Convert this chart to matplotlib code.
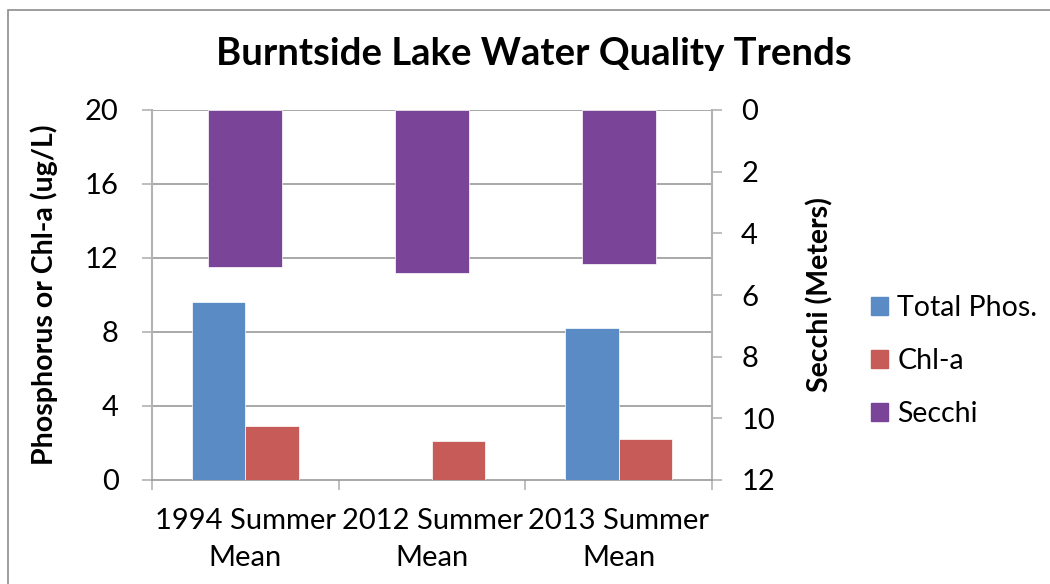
import numpy as np
import matplotlib.pyplot as plt
from matplotlib.patches import Rectangle, Patch

plt.rcParams["font.family"] = ["Lato", "DejaVu Sans"]

# Data
categories = ["1994 Summer\nMean", "2012 Summer\nMean", "2013 Summer\nMean"]
total_phos = [9.6, np.nan, 8.2]
chl_a = [2.9, 2.1, 2.2]
secchi = [5.1, 5.3, 5.0]
left_ticks = [0, 4, 8, 12, 16, 20]
right_ticks = [0, 2, 4, 6, 8, 10, 12]

C_BLUE = "#5b8bc5"
C_RED = "#c65b57"
C_PURPLE = "#7a4599"
C_AXIS = "#b3b3b3"
C_GRID = "#999999"
FS = 21

W, H = 1050, 584
fig = plt.figure(figsize=(W / 100, H / 100), dpi=100)
fig.patch.set_facecolor("white")

# chart area border (top and left visible)
fig.patches.append(Rectangle((8 / W, -0.1), 1.2, 1.1 - 10 / H,
                             transform=fig.transFigure, fill=False,
                             edgecolor="#8c8c8c", linewidth=1.2))

ax = fig.add_axes([152 / W, 1 - 480 / H, (712 - 152) / W, (480 - 110) / H])
ax2 = ax.twinx()
ax.set_zorder(ax2.get_zorder() + 1)
ax.patch.set_visible(False)

x = np.arange(len(categories))
bw = 0.285
ax.bar(x - bw / 2, total_phos, bw, color=C_BLUE, edgecolor="white", linewidth=0.5, zorder=3)
ax.bar(x + bw / 2, chl_a, bw, color=C_RED, edgecolor="white", linewidth=0.5, zorder=3)
ax2.bar(x, secchi, 0.395, color=C_PURPLE, edgecolor="white", linewidth=0.5, zorder=3)

ax.set_xlim(-0.5, 2.5)
ax.set_ylim(0, 20)
ax2.set_ylim(12, 0)

ax.set_yticks(left_ticks)
ax2.set_yticks(right_ticks)
ax.set_xticks(x)
ax.set_xticklabels(categories, fontsize=FS, linespacing=1.55)
ax.set_xticks([-0.5, 0.5, 1.5, 2.5], minor=True)
ax.tick_params(axis="x", which="major", length=0, pad=20)
ax.tick_params(axis="x", which="minor", length=7, color=C_AXIS, width=1.2)
ax.tick_params(axis="y", labelsize=FS, length=7, color=C_AXIS, width=1.2, pad=17)
ax2.tick_params(axis="y", labelsize=FS, length=7, color=C_AXIS, width=1.2, pad=14)

# gridlines drawn behind all bars
for v in left_ticks[1:]:
    ax2.axhline(12 - v * 12 / 20, color=C_GRID, linewidth=1.2, zorder=0)

for a in (ax, ax2):
    for s in a.spines.values():
        s.set_visible(False)
ax.spines["left"].set_visible(True)
ax.spines["left"].set_color(C_AXIS)
ax.spines["left"].set_linewidth(1.5)
ax.spines["bottom"].set_visible(True)
ax.spines["bottom"].set_color(C_GRID)
ax.spines["bottom"].set_linewidth(1.2)
ax2.spines["right"].set_visible(True)
ax2.spines["right"].set_color(C_AXIS)
ax2.spines["right"].set_linewidth(1.5)

ax.set_ylabel("Phosphorus or Chl-a (ug/L)", fontsize=20.5, fontweight="bold")
ax.yaxis.set_label_coords((58 - 152) / 560, 0.5)
ax2.set_ylabel("Secchi (Meters)", fontsize=20.5, fontweight="bold")
ax2.yaxis.set_label_coords((806 - 152) / 560, 0.5)

fig.text(534 / W, 1 - 54 / H, "Burntside Lake Water Quality Trends",
         fontsize=27.5, fontweight="bold", ha="center", va="center")

handles = [Patch(color=C_BLUE), Patch(color=C_RED), Patch(color=C_PURPLE)]
fig.legend(handles, ["Total Phos.", "Chl-a", "Secchi"], loc="center left",
           bbox_to_anchor=(871 / W, 1 - 361 / H), frameon=False, fontsize=20.5,
           borderpad=0, borderaxespad=0,
           handlelength=0.6, handleheight=0.6, handletextpad=0.32, labelspacing=0.95)

fig.savefig("out.png", dpi=100, facecolor="white")
